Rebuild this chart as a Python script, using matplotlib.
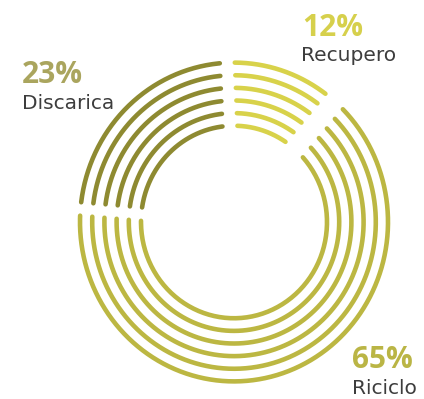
import numpy as np
import matplotlib.pyplot as plt

labels = ['Recupero', 'Riciclo', 'Discarica']
shares = [12, 65, 23]
pct_text = ['12%', '65%', '23%']

ring_colors = ['#d8d24a', '#bcb742', '#8e8a31']
pct_colors = ['#d6d04c', '#bab545', '#aaa55e']

# layout, in pixels of the 424x399 picture
cx, cy = 234, 222
n_rings = 6
outer_r = 154
ring_step = 12.2
yscale = 1.035
start_angle = 92.5
gaps = [23, 13, 15]   # gap after each segment (centre line, px)
lw = 3.3

fig = plt.figure(figsize=(4.24, 3.99), dpi=100)
ax = fig.add_axes([0, 0, 1, 1])
ax.set_xlim(0, 424)
ax.set_ylim(399, 0)
ax.axis('off')

for k in range(n_rings):
    r = outer_r - ring_step * k
    a = start_angle
    prev_gap = gaps[-1]
    for i, s in enumerate(shares):
        b = a - 360 * s / 100
        a0 = np.radians(a) - prev_gap / 2 / r
        b0 = np.radians(b) + gaps[i] / 2 / r
        t = np.linspace(a0, b0, 200)
        ax.plot(cx + r * np.cos(t), cy - r * yscale * np.sin(t),
                color=ring_colors[i], lw=lw, solid_capstyle='round')
        prev_gap = gaps[i]
        a = b

pct_font = dict(family='Open Sans', weight='bold', size=21.5)
lab_font = dict(family='DejaVu Sans', size=14.5, color='#3d3d3d')

pos = {'Recupero': (302, 36, 301, 61),
       'Riciclo': (352, 368, 352, 394),
       'Discarica': (22, 83, 22, 109)}

for i, name in enumerate(labels):
    px, py, lx, ly = pos[name]
    ax.text(px, py, pct_text[i], color=pct_colors[i], va='baseline', ha='left', **pct_font)
    ax.text(lx, ly, name, va='baseline', ha='left', **lab_font)

fig.savefig('out.png', dpi=100)
